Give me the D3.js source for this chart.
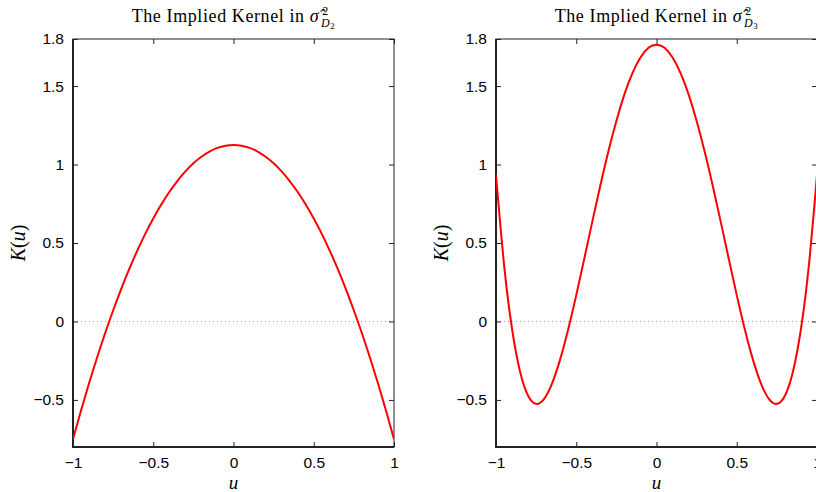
<!DOCTYPE html>
<html>
<head>
<meta charset="utf-8">
<script src="https://cdn.jsdelivr.net/npm/d3@7"></script>
<style>
  body { margin: 0; background: #fff; }
  svg { display: block; }
</style>
</head>
<body>
<div class="chart"></div>
<script>
// u grid shared by both kernels
const uValues = [-1, -0.95, -0.9, -0.85, -0.8, -0.75, -0.7, -0.65, -0.6, -0.55, -0.5, -0.45, -0.4, -0.35, -0.3, -0.25, -0.2, -0.15, -0.1, -0.05,
  0, 0.05, 0.1, 0.15, 0.2, 0.25, 0.3, 0.35, 0.4, 0.45, 0.5, 0.55, 0.6, 0.65, 0.7, 0.75, 0.8, 0.85, 0.9, 0.95, 1]

// K(u)
const kernelD2 = [-0.75, -0.567, -0.394, -0.230, -0.075, 0.070, 0.206, 0.333, 0.450, 0.558, 0.656, 0.745, 0.825, 0.895, 0.956, 1.008, 1.050, 1.083, 1.106, 1.120,
  1.125, 1.120, 1.106, 1.083, 1.050, 1.008, 0.956, 0.895, 0.825, 0.745, 0.656, 0.558, 0.450, 0.333, 0.206, 0.070, -0.075, -0.230, -0.394, -0.567, -0.75]

// K(u)
const kernelD3 = [0.934, 0.364, -0.048, -0.320, -0.473, -0.525, -0.493, -0.393, -0.240, -0.049, 0.168, 0.400, 0.636, 0.867, 1.083, 1.278, 1.447, 1.583, 1.682, 1.744,
  1.764, 1.744, 1.682, 1.583, 1.447, 1.278, 1.083, 0.867, 0.636, 0.400, 0.168, -0.049, -0.240, -0.393, -0.493, -0.525, -0.473, -0.320, -0.048, 0.364, 0.934]

const xTicks = [-1, -0.5, 0, 0.5, 1]
const yTicks = [-0.5, 0, 0.5, 1, 1.5, 1.8]

const panels = [
  { left: 73, sub: "2", values: kernelD2 },
  { left: 496, sub: "3", values: kernelD3 }
]

const width = 816
const height = 492
const plotW = 321
const plotTop = 39
const plotBottom = 447
const serif = '"Liberation Serif", "Times New Roman", serif'

const svg = d3.select('.chart')
  .append('svg')
  .attr('width', width)
  .attr('height', height)

const fmt = d => String(d).replace('-', '\u2212')

panels.forEach((p, i) => {
  const x = d3.scaleLinear().domain([-1, 1]).range([p.left, p.left + plotW])
  const y = d3.scaleLinear().domain([-0.8, 1.8]).range([plotBottom, plotTop])
  const g = svg.append('g')

  svg.append('clipPath').attr('id', 'clip' + i)
    .append('rect')
    .attr('x', p.left).attr('y', plotTop)
    .attr('width', plotW).attr('height', plotBottom - plotTop)

  // dotted zero line
  g.append('line')
    .attr('x1', x(-1)).attr('x2', x(1))
    .attr('y1', y(0)).attr('y2', y(0))
    .attr('stroke', '#999')
    .attr('stroke-width', 1)
    .attr('stroke-dasharray', '1,3')

  // axes with inward ticks
  const tickLen = 5
  g.append('g')
    .attr('transform', `translate(0,${plotBottom})`)
    .call(d3.axisBottom(x).tickValues(xTicks).tickFormat(fmt).tickSizeInner(-tickLen).tickSizeOuter(0).tickPadding(10))
  g.append('g')
    .attr('transform', `translate(0,${plotTop})`)
    .call(d3.axisTop(x).tickValues(xTicks).tickFormat('').tickSizeInner(-tickLen).tickSizeOuter(0))
  g.append('g')
    .attr('transform', `translate(${p.left},0)`)
    .call(d3.axisLeft(y).tickValues(yTicks).tickFormat(fmt).tickSizeInner(-tickLen).tickSizeOuter(0).tickPadding(9))
  g.append('g')
    .attr('transform', `translate(${p.left + plotW},0)`)
    .call(d3.axisRight(y).tickValues(yTicks).tickFormat('').tickSizeInner(-tickLen).tickSizeOuter(0))

  g.selectAll('.domain').remove()
  g.selectAll('.tick line').attr('stroke', '#222')
  g.selectAll('.tick text')
    .attr('font-family', '"Liberation Sans", Arial, sans-serif')
    .attr('font-size', 15.5)
    .attr('fill', '#000')

  // frame
  g.append('rect')
    .attr('x', p.left).attr('y', plotTop)
    .attr('width', plotW).attr('height', plotBottom - plotTop)
    .attr('fill', 'none').attr('stroke', '#222').attr('stroke-width', 1)
  g.append('path')
    .attr('d', `M${p.left},${plotTop}V${plotBottom}H${p.left + plotW}`)
    .attr('fill', 'none').attr('stroke', '#222').attr('stroke-width', 2)

  // kernel curve
  const line = d3.line()
    .x((d, j) => x(uValues[j]))
    .y(d => y(d))
    .curve(d3.curveNatural)

  g.append('path')
    .datum(p.values)
    .attr('clip-path', `url(#clip${i})`)
    .attr('d', line)
    .attr('fill', 'none')
    .attr('stroke', '#ff0000')
    .attr('stroke-width', 2)

  // title
  const cx = p.left + plotW / 2
  const title = g.append('text')
    .attr('x', cx).attr('y', 22)
    .attr('text-anchor', 'middle')
    .attr('font-family', serif)
    .attr('font-size', 18)
    .attr('letter-spacing', 0.6)
  title.append('tspan').text('The Implied Kernel in ')
  title.append('tspan').attr('font-style', 'italic').text('\u03C3\u0302')
  title.append('tspan').attr('font-size', 12).attr('dx', 3).attr('dy', -7).text('2')
  title.append('tspan').attr('font-size', 12).attr('font-style', 'italic').attr('dx', -8).attr('dy', 12).text('D')
  title.append('tspan').attr('font-size', 9).attr('dy', 2).text(p.sub)

  // axis labels
  g.append('text')
    .attr('x', cx).attr('y', 489)
    .attr('text-anchor', 'middle')
    .attr('font-family', serif)
    .attr('font-style', 'italic')
    .attr('font-size', 19)
    .text('u')

  g.append('text')
    .attr('transform', `translate(${p.left - 48},${y(0.5)}) rotate(-90)`)
    .attr('text-anchor', 'middle')
    .attr('font-family', serif)
    .attr('font-size', 20)
    .html('<tspan font-style="italic">K</tspan>(<tspan font-style="italic">u</tspan>)')
})
</script>
</body>
</html>
